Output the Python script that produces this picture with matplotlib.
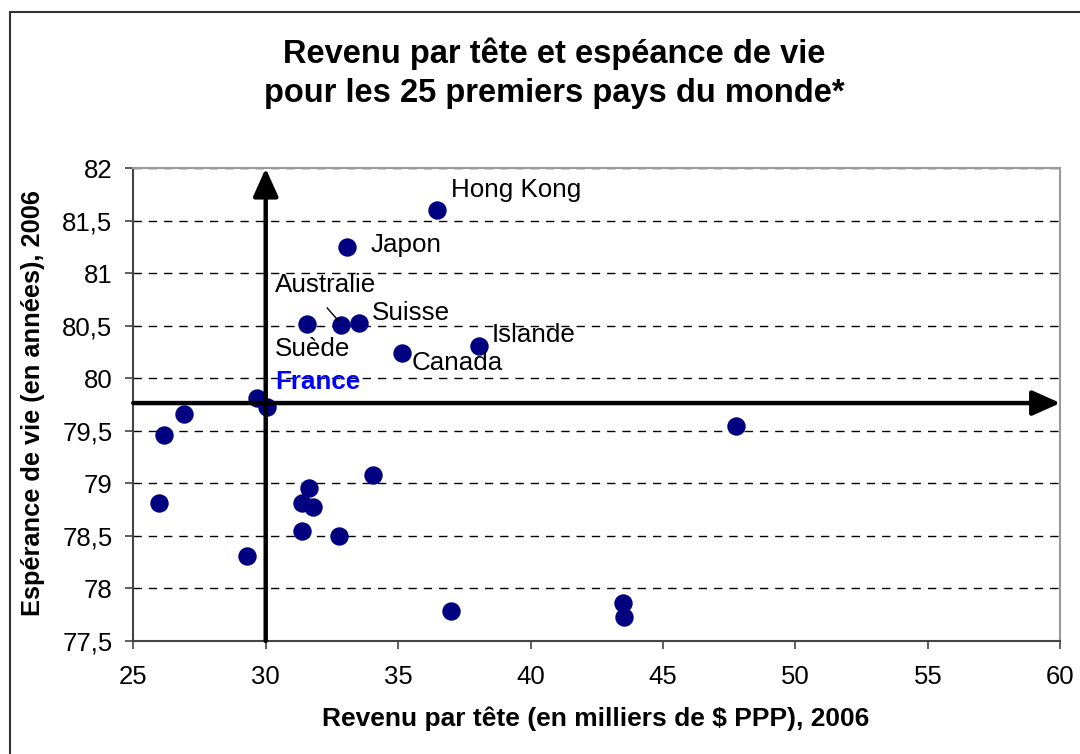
import matplotlib.pyplot as plt
from matplotlib.patches import Rectangle

plt.rcParams['font.family'] = ['Liberation Sans', 'DejaVu Sans']

# Revenu par tete (milliers $ PPP) et esperance de vie, 2006
revenu = [36.47, 33.06, 31.57, 32.84, 33.53, 35.14, 38.06, 29.66, 30.05,
          26.93, 26.16, 31.63, 34.06, 25.97, 31.38, 31.77, 31.38, 32.78,
          29.28, 36.98, 43.48, 43.53, 47.74]
esperance = [81.60, 81.25, 80.52, 80.51, 80.53, 80.24, 80.31, 79.81, 79.73,
             79.66, 79.46, 78.96, 79.08, 78.81, 78.81, 78.78, 78.55, 78.50,
             78.31, 77.79, 77.86, 77.73, 79.55]

# labels des pays (texte, x, y)
pays = ['Hong Kong', 'Japon', 'Australie', 'Suisse', 'Suède', 'Islande', 'Canada']
pays_x = [36.98, 33.96, 30.35, 34.0, 30.35, 38.53, 35.51]
pays_y = [81.727, 81.203, 80.82, 80.56, 80.21, 80.35, 80.08]

# position de la France (croisement des axes)
france_x = 30
france_y = 79.765

xticks = [25, 30, 35, 40, 45, 50, 55, 60]
yticks = [77.5, 78, 78.5, 79, 79.5, 80, 80.5, 81, 81.5, 82]
ytick_labels = ['77,5', '78', '78,5', '79', '79,5', '80', '80,5', '81', '81,5', '82']

fig = plt.figure(figsize=(10.8, 7.54), dpi=100)
ax = fig.add_axes([0.1234, 0.1499, 0.8584, 0.6269])

# cadre exterieur
fig.patches.append(Rectangle((10 / 1080, -0.05), 1.1, 1 - 12 / 754 + 0.05,
                             transform=fig.transFigure, fill=False,
                             edgecolor='#333333', lw=1.5))

ax.set_xlim(25, 60)
ax.set_ylim(77.5, 82)
ax.set_xticks(xticks)
ax.set_yticks(yticks)
ax.set_yticklabels(ytick_labels)
ax.tick_params(direction='out', length=6, width=1.2, color='#444444',
               labelsize=18.5)
ax.tick_params(axis='x', pad=11)
ax.tick_params(axis='y', pad=9)
ax.yaxis.grid(True, linestyle=(0, (6, 5)), color='black', lw=1)
ax.set_axisbelow(True)

for side in ['left', 'bottom']:
    ax.spines[side].set_color('#444444')
    ax.spines[side].set_linewidth(1.5)
for side in ['top', 'right']:
    ax.spines[side].set_color('#999999')
    ax.spines[side].set_linewidth(1.5)

ax.scatter(revenu, esperance, s=150, color='#000080', zorder=3)

# axes fleches centres sur la France
ax.annotate('', xy=(france_x, 82), xytext=(france_x, 77.5),
            arrowprops=dict(arrowstyle='-|>,head_length=0.85,head_width=0.38',
                            color='black', lw=3.2, mutation_scale=20,
                            shrinkA=0, shrinkB=0),
            annotation_clip=False, zorder=4)
ax.annotate('', xy=(60, france_y), xytext=(25, france_y),
            arrowprops=dict(arrowstyle='-|>,head_length=0.85,head_width=0.38',
                            color='black', lw=3.2, mutation_scale=20,
                            shrinkA=0, shrinkB=0),
            annotation_clip=False, zorder=4)

for nom, x, y in zip(pays, pays_x, pays_y):
    ax.text(x, y, nom, fontsize=18.7, va='baseline', ha='left', zorder=5)
ax.text(30.35, 79.90, 'France', fontsize=18.7, fontweight='bold',
        color='#0000ff', va='baseline', ha='left', zorder=5)

# trait de rappel Australie
ax.plot([32.32, 32.74], [80.67, 80.55], color='black', lw=1, zorder=5)

fig.text(0.513, 0.9025, 'Revenu par tête et espéance de vie\npour les 25 premiers pays du monde*',
         ha='center', va='center', fontsize=23.5, fontweight='bold', linespacing=1.33)
fig.text(0.0306, 0.4655, 'Espérance de vie (en années), 2006', rotation=90,
         ha='center', va='center', fontsize=18.3, fontweight='bold')
fig.text(0.552, 0.0464, 'Revenu par tête (en milliers de $ PPP), 2006',
         ha='center', va='center', fontsize=19, fontweight='bold')

fig.savefig('out.png', dpi=100)
